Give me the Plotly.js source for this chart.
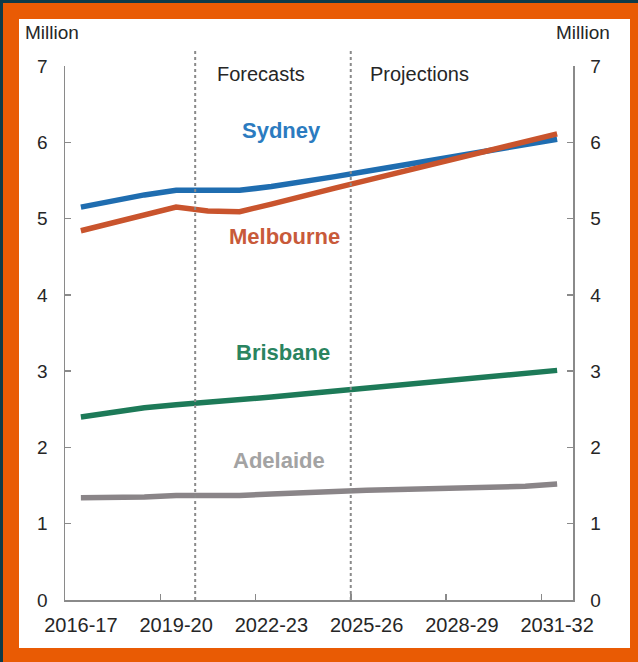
<!DOCTYPE html>
<html>
<head>
<meta charset="utf-8">
<script src="https://cdn.plot.ly/plotly-3.0.1.min.js"></script>
<style>
  html, body { margin: 0; padding: 0; background: #0c3a48; }
  #chart { width: 638px; height: 662px; }
</style>
</head>
<body>
<div id="chart"></div>
<script>
// Financial years (categories)
const years = ["2016-17","2017-18","2018-19","2019-20","2020-21","2021-22","2022-23","2023-24",
               "2024-25","2025-26","2026-27","2027-28","2028-29","2029-30","2030-31","2031-32"];
const tickLabels = ["2016-17","2019-20","2022-23","2025-26","2028-29","2031-32"];

// Population, million
const sydney    = [5.15,5.23,5.31,5.37,5.37,5.37,5.42,5.48,5.55,5.62,5.69,5.76,5.83,5.90,5.97,6.04];
const melbourne = [4.84,4.94,5.05,5.15,5.10,5.09,5.19,5.30,5.40,5.50,5.60,5.70,5.80,5.91,6.01,6.11];
const brisbane  = [2.40,2.46,2.52,2.56,2.59,2.62,2.66,2.70,2.74,2.78,2.82,2.86,2.89,2.93,2.97,3.01];
const adelaide  = [1.34,1.34,1.35,1.37,1.37,1.37,1.39,1.41,1.42,1.44,1.45,1.46,1.47,1.48,1.49,1.52];

const seriesNames = ["Sydney","Melbourne","Brisbane","Adelaide"];
const seriesData = [sydney, melbourne, brisbane, adelaide];
const seriesAxis = ["y","y","y","y2"];
const lineColors = ["#1f6db0","#c9542d","#1d7a58","#8a8588"];
const labelColors = ["#2b7bc0","#c85a3a","#2a8460","#a3a3a3"];

const FONT = "Liberation Sans, Arial, sans-serif";
const TXT = "#262626";

// paper coordinates helpers (plot area 65..573 x, 66..600 y)
const L = 65, R = 573, T = 66, B = 600;
const px = v => (v - L) / (R - L);
const py = v => (B - v) / (B - T);

const traces = seriesNames.map((n, i) => ({
  type: "scatter", mode: "lines", name: n,
  x: years, y: seriesData[i], yaxis: seriesAxis[i],
  line: { color: lineColors[i], width: 5.5 },
  hoverinfo: "skip"
}));

const labelPos = [[6.33, 6.16],[6.4, 4.77],[6.37, 3.25],[6.24, 1.83]];
const annotations = seriesNames.map((n, i) => ({
  xref: "x", yref: "y", x: labelPos[i][0], y: labelPos[i][1],
  xanchor: "center", yanchor: "middle",
  text: "<b>" + n + "</b>", showarrow: false,
  font: { family: FONT, size: 22, color: labelColors[i] }
}));
annotations.push(
  { xref: "x", yref: "y", x: 5.67, y: 6.89, xanchor: "center", yanchor: "middle",
    text: "Forecasts", showarrow: false, font: { family: FONT, size: 20, color: TXT } },
  { xref: "x", yref: "y", x: 10.65, y: 6.89, xanchor: "center", yanchor: "middle",
    text: "Projections", showarrow: false, font: { family: FONT, size: 20, color: TXT } },
  { xref: "paper", yref: "paper", x: px(52), y: py(32), xanchor: "center", yanchor: "middle",
    text: "Million", showarrow: false, font: { family: FONT, size: 19, color: TXT } },
  { xref: "paper", yref: "paper", x: px(583), y: py(32), xanchor: "center", yanchor: "middle",
    text: "Million", showarrow: false, font: { family: FONT, size: 19, color: TXT } }
);

const shapes = [
  { type: "rect", xref: "paper", yref: "paper", layer: "below",
    x0: px(3), x1: px(640), y0: py(665), y1: py(3), fillcolor: "#e95b04", line: { width: 0 } },
  { type: "rect", xref: "paper", yref: "paper", layer: "below",
    x0: px(19), x1: px(630), y0: py(648), y1: py(19), fillcolor: "#ffffff", line: { width: 0 } },
  { type: "line", xref: "x", yref: "paper", x0: 3.6, x1: 3.6, y0: 0, y1: py(50),
    line: { color: "#8a8a8a", width: 2, dash: "3px,3px" } },
  { type: "line", xref: "x", yref: "paper", x0: 8.5, x1: 8.5, y0: 0, y1: py(50),
    line: { color: "#8a8a8a", width: 2, dash: "3px,3px" } }
];

const yCommon = {
  range: [0, 7], dtick: 1, tick0: 0, tickmode: "linear",
  showgrid: false, zeroline: false,
  showline: true, linecolor: "#8a8a8a", linewidth: 1.5,
  ticks: "inside", ticklen: 6, tickcolor: "#8a8a8a", tickwidth: 1.5,
  ticklabelstandoff: 12,
  tickfont: { family: FONT, size: 19, color: TXT }, fixedrange: true
};

const layout = {
  width: 638, height: 662,
  margin: { l: L, r: 638 - R, t: T, b: 662 - B, pad: 0 },
  paper_bgcolor: "#0c3a48",
  plot_bgcolor: "rgba(0,0,0,0)",
  showlegend: false,
  xaxis: {
    type: "category", range: [-0.5, 15.5],
    tickmode: "array", tickvals: tickLabels, ticktext: tickLabels,
    tickson: "boundaries", tickangle: 0,
    showgrid: false, zeroline: false,
    showline: true, linecolor: "#8a8a8a", linewidth: 1.5,
    ticks: "inside", ticklen: 6, tickcolor: "#8a8a8a", tickwidth: 1.5,
    ticklabelstandoff: 6,
    tickfont: { family: FONT, size: 20, color: TXT }, fixedrange: true
  },
  yaxis: Object.assign({ side: "left" }, yCommon),
  yaxis2: Object.assign({ side: "right", overlaying: "y", anchor: "x" }, yCommon),
  shapes: shapes,
  annotations: annotations
};

Plotly.newPlot("chart", traces, layout, { staticPlot: true, displayModeBar: false });
</script>
</body>
</html>
